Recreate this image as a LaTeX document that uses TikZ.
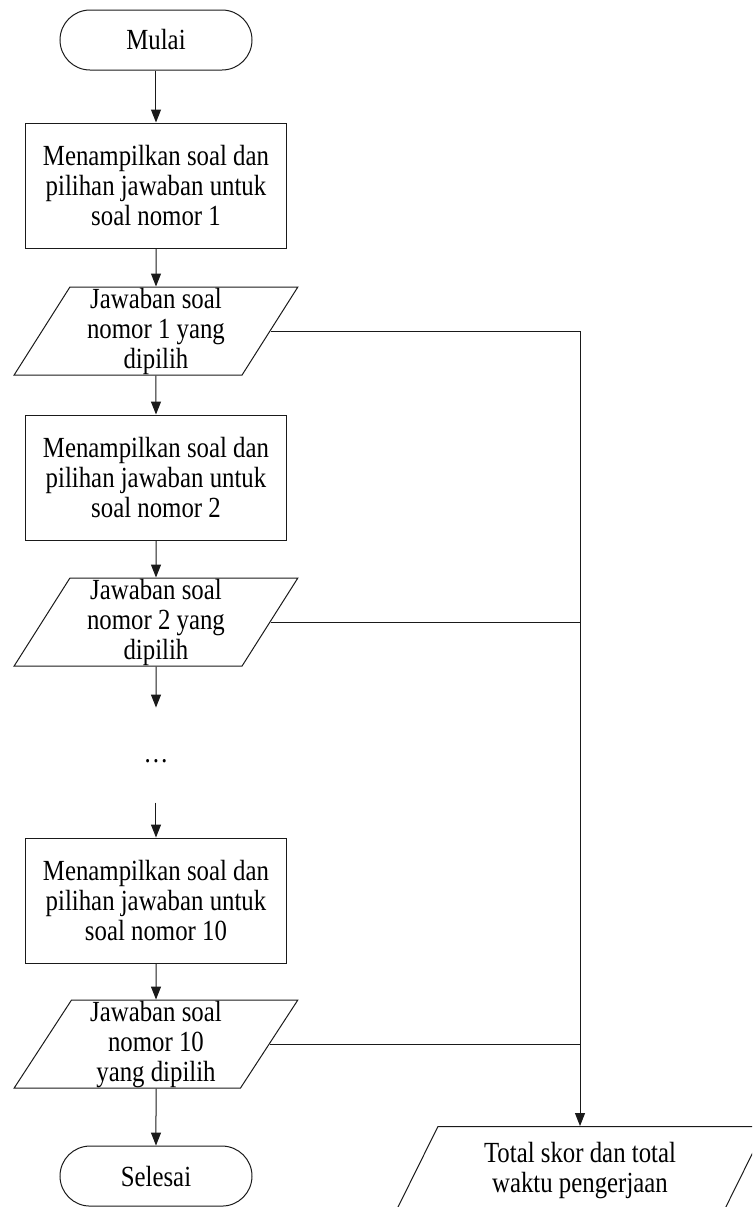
\documentclass[tikz,border=0pt]{standalone}
\usepackage{fontspec}
\setmainfont{Liberation Serif}[FakeStretch=0.85]
\usetikzlibrary{arrows.meta,positioning,shapes.geometric}
\definecolor{ink}{HTML}{1A1A1A}
\tikzset{
  >={Triangle[length=6.5pt,width=5pt]},
  txt/.style={font=\fontsize{14.6}{15}\selectfont},
  flow/.style={->,line width=0.5pt,draw=ink},
  link/.style={line width=0.5pt,draw=ink},
  termbox/.style={rectangle,rounded corners=15pt,draw=ink,line width=0.5pt,txt,
    minimum width=96pt,minimum height=30pt},
  box/.style={rectangle,draw=ink,line width=0.5pt,txt,align=center,
    minimum width=130pt,minimum height=62.5pt,inner sep=1pt},
  iobox/.style={trapezium,trapezium left angle=62,trapezium right angle=118,
    trapezium stretches=true,draw=ink,line width=0.5pt,txt,align=center,
    minimum width=142pt,minimum height=44pt,inner xsep=1pt,inner ysep=0pt}
}
\begin{document}
\begin{tikzpicture}[node distance=19pt]
  \useasboundingbox (-78pt,20pt) rectangle (298pt,-583.5pt);
  \clip (-78pt,20pt) rectangle (298pt,-583.5pt);
  \node[termbox] (mulai) at (0,0) {Mulai};
  \node[box,below=26pt of mulai] (tampil1) {Menampilkan soal dan\\pilihan jawaban untuk\\soal nomor 1};
  \node[iobox,below=of tampil1] (jawab1) {Jawaban soal\\nomor 1 yang\\dipilih};
  \node[box,below=19.5pt of jawab1] (tampil2) {Menampilkan soal dan\\pilihan jawaban untuk\\soal nomor 2};
  \node[iobox,below=18.5pt of tampil2] (jawab2) {Jawaban soal\\nomor 2 yang\\dipilih};
  \node[box,below=85.5pt of jawab2] (tampil10) {Menampilkan soal dan\\pilihan jawaban untuk\\soal nomor 10};
  \node[iobox,below=18pt of tampil10] (jawab10) {Jawaban soal\\nomor 10\\yang dipilih};
  \node[termbox,below=28.5pt of jawab10] (selesai) {Selesai};
  \node[iobox,minimum width=186pt] (total) at ([xshift=212pt,yshift=2.75pt]selesai.center) {Total skor dan total\\waktu pengerjaan};
  \coordinate (putus1) at ([yshift=-20.5pt]jawab2.south);
  \coordinate (putus2) at ([yshift=17.5pt]tampil10.north);
  \node[txt,inner sep=0pt] (lanjut) at ([yshift=-47.5pt]jawab2.south) {\dots};
  \draw[flow] (mulai) -- (tampil1); \draw[flow] (tampil1) -- (jawab1); \draw[flow] (jawab1) -- (tampil2);
  \draw[flow] (tampil2) -- (jawab2); \draw[flow] (jawab2) -- (putus1); \draw[flow] (putus2) -- (tampil10);
  \draw[flow] (tampil10) -- (jawab10); \draw[flow] (jawab10) -- (selesai);
  \draw[flow] (jawab1.east) -| (total.north);
  \draw[link] (jawab2.east) -- (jawab2.east -| total.north);
  \draw[link] (jawab10.east) -- (jawab10.east -| total.north);
\end{tikzpicture}
\end{document}
